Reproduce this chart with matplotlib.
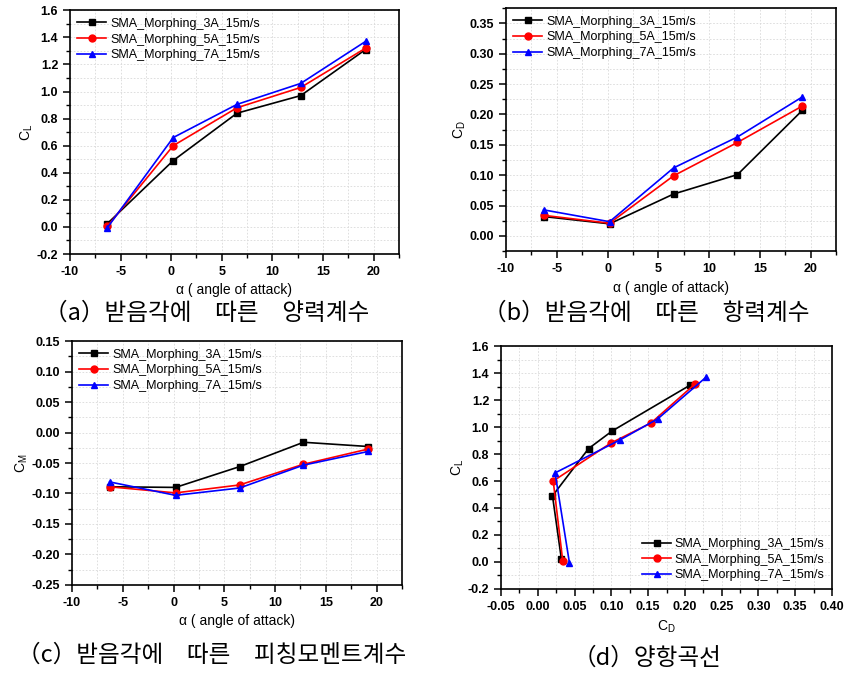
import matplotlib
matplotlib.use("Agg")
import matplotlib.pyplot as plt
from matplotlib.ticker import MultipleLocator

plt.rcParams['font.family'] = ['Liberation Sans', 'DejaVu Sans']
plt.rcParams['axes.unicode_minus'] = False

# 받음각 (deg)
alpha = [-6.3, 0.2, 6.5, 12.8, 19.2]

series = ['SMA_Morphing_3A_15m/s', 'SMA_Morphing_5A_15m/s', 'SMA_Morphing_7A_15m/s']

cl_3a = [0.025, 0.49, 0.84, 0.97, 1.31]
cl_5a = [0.005, 0.60, 0.88, 1.03, 1.32]
cl_7a = [-0.005, 0.66, 0.905, 1.06, 1.37]

cd_3a = [0.032, 0.020, 0.069, 0.101, 0.207]
cd_5a = [0.034, 0.021, 0.099, 0.154, 0.214]
cd_7a = [0.043, 0.0235, 0.112, 0.163, 0.229]

cm_3a = [-0.089, -0.090, -0.056, -0.016, -0.023]
cm_5a = [-0.089, -0.099, -0.086, -0.052, -0.027]
cm_7a = [-0.081, -0.103, -0.091, -0.0535, -0.031]

captions = ['（a）받음각에\u3000따른\u3000양력계수', '（b）받음각에\u3000따른\u3000항력계수',
            '（c）받음각에\u3000따른\u3000피칭모멘트계수', '（d）양항곡선']

colors = ['black', 'red', 'blue']
markers = ['s', 'o', '^']

fig = plt.figure(figsize=(8.47, 6.77), dpi=100)

# 축 위치 (figure fraction)
ax_a = fig.add_axes([0.0826, 0.6248, 0.3884, 0.3600])
ax_b = fig.add_axes([0.5974, 0.6290, 0.3896, 0.3590])
ax_c = fig.add_axes([0.0850, 0.1359, 0.3896, 0.3604])
ax_d = fig.add_axes([0.5915, 0.1300, 0.3908, 0.3589])


def style(ax, xmaj, xmin, ymaj, ymin, xfmt, yfmt):
    ax.xaxis.set_major_locator(MultipleLocator(xmaj))
    ax.xaxis.set_minor_locator(MultipleLocator(xmin))
    ax.yaxis.set_major_locator(MultipleLocator(ymaj))
    ax.yaxis.set_minor_locator(MultipleLocator(ymin))
    ax.xaxis.set_major_formatter(plt.FormatStrFormatter(xfmt))
    ax.yaxis.set_major_formatter(plt.FormatStrFormatter(yfmt))
    ax.tick_params(which='both', direction='out', labelsize=9)
    ax.tick_params(which='major', length=5, width=1.1)
    ax.tick_params(which='minor', length=3, width=1.0)
    for lab in ax.get_xticklabels() + ax.get_yticklabels():
        lab.set_fontweight('bold')
    ax.grid(True, which='both', linestyle=(0, (2, 2)), color='#d9d9d9', linewidth=0.6)
    ax.set_axisbelow(True)
    for s in ax.spines.values():
        s.set_linewidth(1.2)


def draw(ax, xs, ys, loc):
    for i in range(3):
        ax.plot(xs[i], ys[i], color=colors[i], marker=markers[i], markersize=5,
                linewidth=1.2, label=series[i])
    ax.legend(loc=loc, frameon=False, fontsize=9, handlelength=2.3,
              borderaxespad=0.2, labelspacing=0.3, handletextpad=0.3)


draw(ax_a, [alpha] * 3, [cl_3a, cl_5a, cl_7a], 'upper left')
ax_a.set_xlim(-10, 22.5)
ax_a.set_ylim(-0.2, 1.6)
style(ax_a, 5, 2.5, 0.2, 0.1, '%d', '%.1f')
ax_a.set_ylabel('C$_\\mathregular{L}$', fontsize=10, labelpad=1)

draw(ax_b, [alpha] * 3, [cd_3a, cd_5a, cd_7a], 'upper left')
ax_b.set_xlim(-10, 22.5)
ax_b.set_ylim(-0.025, 0.375)
style(ax_b, 5, 2.5, 0.05, 0.025, '%d', '%.2f')
ax_b.set_ylabel('C$_\\mathregular{D}$', fontsize=10, labelpad=1)

draw(ax_c, [alpha] * 3, [cm_3a, cm_5a, cm_7a], 'upper left')
ax_c.set_xlim(-10, 22.5)
ax_c.set_ylim(-0.25, 0.15)
style(ax_c, 5, 2.5, 0.05, 0.025, '%d', '%.2f')
ax_c.set_ylabel('C$_\\mathregular{M}$', fontsize=10, labelpad=1)

draw(ax_d, [cd_3a, cd_5a, cd_7a], [cl_3a, cl_5a, cl_7a], 'lower right')
ax_d.set_xlim(-0.05, 0.40)
ax_d.set_ylim(-0.2, 1.6)
style(ax_d, 0.05, 0.025, 0.2, 0.1, '%.2f', '%.1f')
ax_d.set_ylabel('C$_\\mathregular{L}$', fontsize=10, labelpad=1)
ax_d.set_xlabel('C$_\\mathregular{D}$', fontsize=10)

for ax in (ax_a, ax_b, ax_c):
    ax.set_xlabel('α ( angle of attack)', fontsize=10)

# 캡션
cap_pos = [(207, 313), (646, 313), (212, 655), (647, 658)]
for txt, (px, py) in zip(captions, cap_pos):
    fig.text(px / 847, 1 - py / 677, txt, ha='center', va='center', fontsize=17,
             family=['Noto Sans CJK KR', 'DejaVu Sans'])

fig.savefig('out.png', dpi=100)
